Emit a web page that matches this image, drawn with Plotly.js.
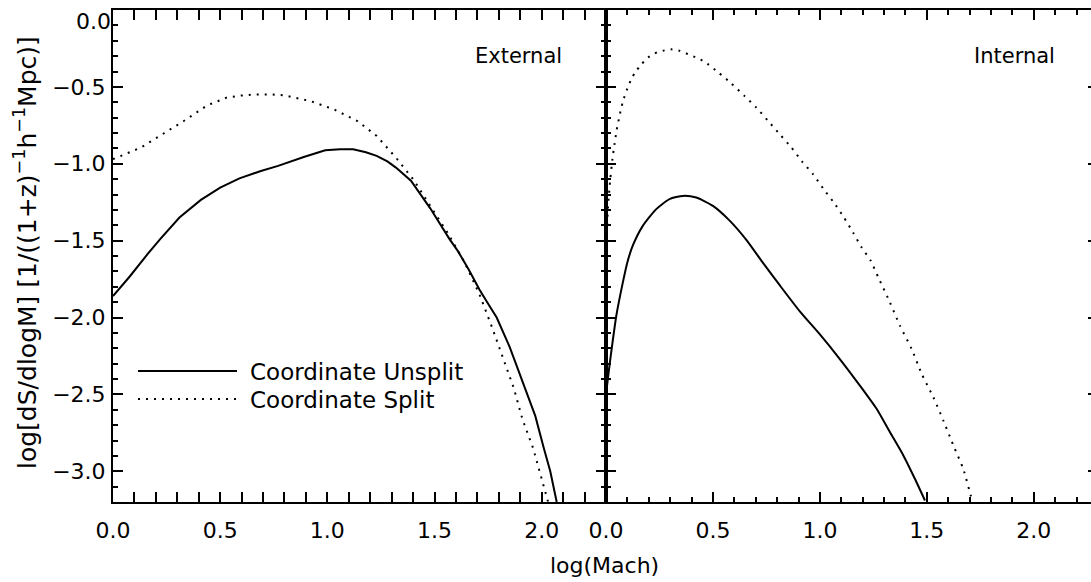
<!DOCTYPE html>
<html>
<head>
<meta charset="utf-8">
<script src="https://cdn.plot.ly/plotly-3.0.1.min.js"></script>
<style>
html, body { margin: 0; padding: 0; overflow: hidden; background: #fff; }
#chart { width: 1100px; height: 582px; }
</style>
</head>
<body>
<div id="chart"></div>
<script>
// ---- Data ----
// External panel
const extUnsplitX = [0, 0.08, 0.16, 0.22, 0.31, 0.41, 0.50, 0.59, 0.69, 0.77, 0.89, 0.99, 1.06, 1.12, 1.18, 1.23, 1.28, 1.32, 1.39, 1.48, 1.57, 1.61, 1.66, 1.71, 1.75, 1.79, 1.85, 1.91, 1.97, 2.01, 2.04, 2.07];
const extUnsplitY = [-1.86, -1.73, -1.59, -1.49, -1.35, -1.235, -1.155, -1.095, -1.047, -1.014, -0.956, -0.912, -0.905, -0.906, -0.925, -0.949, -0.985, -1.025, -1.11, -1.29, -1.49, -1.57, -1.69, -1.82, -1.91, -2.0, -2.19, -2.42, -2.64, -2.85, -3.0, -3.2];
const extSplitX = [0, 0.13, 0.24, 0.33, 0.44, 0.53, 0.60, 0.67, 0.73, 0.80, 0.92, 1.03, 1.14, 1.23, 1.32, 1.40, 1.48, 1.56, 1.64, 1.71, 1.77, 1.82, 1.87, 1.91, 1.96, 2.00, 2.03];
const extSplitY = [-0.97, -0.895, -0.80, -0.722, -0.62, -0.570, -0.556, -0.549, -0.549, -0.555, -0.592, -0.646, -0.722, -0.819, -0.96, -1.10, -1.274, -1.447, -1.64, -1.85, -2.07, -2.27, -2.46, -2.66, -2.85, -3.05, -3.2];
// Internal panel
const intUnsplitX = [0, 0.012, 0.024, 0.048, 0.079, 0.10, 0.126, 0.172, 0.235, 0.297, 0.36, 0.422, 0.50, 0.578, 0.656, 0.734, 0.812, 0.906, 1.0, 1.093, 1.187, 1.265, 1.327, 1.39, 1.444, 1.491];
const intUnsplitY = [-2.50, -2.36, -2.23, -1.99, -1.77, -1.64, -1.53, -1.404, -1.295, -1.23, -1.209, -1.22, -1.274, -1.37, -1.495, -1.645, -1.79, -1.96, -2.11, -2.27, -2.443, -2.594, -2.745, -2.897, -3.049, -3.19];
const intSplitX = [0, 0.005, 0.01, 0.02, 0.03, 0.04, 0.05, 0.06, 0.07, 0.08, 0.10, 0.12, 0.14, 0.165, 0.196, 0.227, 0.266, 0.305, 0.344, 0.383, 0.422, 0.461, 0.523, 0.586, 0.648, 0.703, 0.758, 0.812, 0.867, 0.917, 0.968, 1.015, 1.065, 1.112, 1.155, 1.195, 1.237, 1.273, 1.327, 1.374, 1.429, 1.476, 1.53, 1.577, 1.624, 1.67, 1.705, 1.715];
const intSplitY = [-1.5, -1.40, -1.27, -1.10, -0.97, -0.87, -0.78, -0.71, -0.645, -0.59, -0.51, -0.445, -0.398, -0.354, -0.31, -0.282, -0.265, -0.256, -0.265, -0.287, -0.31, -0.336, -0.404, -0.477, -0.56, -0.635, -0.722, -0.808, -0.895, -0.986, -1.068, -1.161, -1.252, -1.349, -1.447, -1.544, -1.63, -1.739, -1.901, -2.053, -2.205, -2.367, -2.518, -2.67, -2.832, -2.984, -3.157, -3.2];

// Tick labels
const yTickVals = [-3.0, -2.5, -2.0, -1.5, -1.0, -0.5];
const yTickText = ['\u22123.0', '\u22122.5', '\u22122.0', '\u22121.5', '\u22121.0', '\u22120.5'];
const yTopTickVals = [0];
const yTopTickText = ['0.0'];

const seriesNames = ['Coordinate Unsplit', 'Coordinate Split'];
const panelLabels = ['External', 'Internal'];
const xTitle = 'log(Mach)';
const yTitle = 'log[dS/dlogM] [1/((1+z)<sup>\u22121</sup>h<sup>\u22121</sup>Mpc)]';

// ---- Styles ----
const FONT = 'DejaVu Sans';
const solid = {color: 'black', width: 2};
const dotted = {color: 'black', width: 2, dash: '2px,6px'};
const solidSmooth = {color: 'black', width: 2, shape: 'spline', smoothing: 0.6};
const dottedSmooth = {color: 'black', width: 2, dash: '2px,6px', shape: 'spline', smoothing: 0.6};

const traces = [
  {x: extUnsplitX, y: extUnsplitY, xaxis: 'x', yaxis: 'y', mode: 'lines', line: solid, name: seriesNames[0], showlegend: false},
  {x: extSplitX, y: extSplitY, xaxis: 'x', yaxis: 'y', mode: 'lines', line: dotted, name: seriesNames[1], showlegend: false},
  {x: intUnsplitX, y: intUnsplitY, xaxis: 'x2', yaxis: 'y2', mode: 'lines', line: solidSmooth, name: seriesNames[0], showlegend: false},
  {x: intSplitX, y: intSplitY, xaxis: 'x2', yaxis: 'y2', mode: 'lines', line: dottedSmooth, name: seriesNames[1], showlegend: false},
  // empty helper trace so the overlay axis carrying the top "0.0" label is drawn
  {x: [], y: [], xaxis: 'x', yaxis: 'y3', mode: 'lines', showlegend: false, hoverinfo: 'skip'}
];

const W = 1100, H = 582, ML = 113, MR = 2, MT = 10, MB = 80;
const PW = W - ML - MR, PH = H - MT - MB;
const px = v => (v - ML) / PW;
const py = v => (H - MB - v) / PH;
const split = px(606);

const minorTicks = {ticks: 'inside', ticklen: 5, tickwidth: 2, tickcolor: 'black', tickmode: 'linear', dtick: 0.1, tick0: 0, showgrid: false};

function xAxis(domain, anchor) {
  return {
    domain: domain, anchor: anchor, range: [0, 2.3], autorange: false,
    showline: true, linecolor: 'black', linewidth: 2, mirror: 'allticks',
    ticks: 'inside', ticklen: 10, tickwidth: 2, tickcolor: 'black',
    tick0: 0, dtick: 0.5, tickformat: '.1f', showgrid: false, zeroline: false,
    ticklabelstandoff: 8, ticklabeloverflow: 'allow',
    tickfont: {family: FONT, size: 22, color: 'black'},
    minor: minorTicks
  };
}
function yAxis(anchor, labels) {
  return {
    anchor: anchor, range: [-3.2, 0], autorange: false,
    showline: true, linecolor: 'black', linewidth: 2, mirror: 'allticks',
    ticks: 'inside', ticklen: 10, tickwidth: 2, tickcolor: 'black',
    tickmode: 'array', tickvals: yTickVals, ticktext: yTickText,
    showgrid: false, zeroline: false,
    showticklabels: labels, ticklabeloverflow: 'allow', ticklabelstandoff: 1,
    tickfont: {family: FONT, size: 22, color: 'black'},
    minor: minorTicks
  };
}

const layout = {
  width: W, height: H,
  margin: {l: ML, r: MR, t: MT, b: MB, pad: 0},
  paper_bgcolor: 'white', plot_bgcolor: 'white',
  font: {family: FONT, color: 'black'},
  showlegend: false,
  xaxis: xAxis([0, split], 'y'),
  xaxis2: xAxis([split, 1], 'y2'),
  yaxis: yAxis('x', true),
  yaxis2: Object.assign(yAxis('x2', false), {matches: 'y'}),
  yaxis3: {
    overlaying: 'y', anchor: 'x', side: 'left', range: [-3.2, 0], autorange: false,
    showline: false, ticks: '', showgrid: false, zeroline: false,
    tickmode: 'array', tickvals: yTopTickVals, ticktext: yTopTickText,
    ticklabelshift: 11, ticklabelstandoff: 1, ticklabeloverflow: 'allow',
    tickfont: {family: FONT, size: 22, color: 'black'}
  },
  shapes: [
    {type: 'line', xref: 'paper', yref: 'paper', x0: px(138), x1: px(237), y0: py(371), y1: py(371), line: solid},
    {type: 'line', xref: 'paper', yref: 'paper', x0: px(138), x1: px(237), y0: py(399), y1: py(399), line: dotted}
  ],
  annotations: [
    {xref: 'paper', yref: 'paper', x: px(248), y: py(372), xanchor: 'left', yanchor: 'middle', text: seriesNames[0], showarrow: false, font: {family: FONT, size: 23, color: 'black'}},
    {xref: 'paper', yref: 'paper', x: px(248), y: py(400), xanchor: 'left', yanchor: 'middle', text: seriesNames[1], showarrow: false, font: {family: FONT, size: 23, color: 'black'}},
    {xref: 'paper', yref: 'paper', x: px(564), y: py(56), xanchor: 'right', yanchor: 'middle', text: panelLabels[0], showarrow: false, font: {family: FONT, size: 21, color: 'black'}},
    {xref: 'paper', yref: 'paper', x: px(1057), y: py(56), xanchor: 'right', yanchor: 'middle', text: panelLabels[1], showarrow: false, font: {family: FONT, size: 21, color: 'black'}},
    {xref: 'paper', yref: 'paper', x: px(604), y: py(565), xanchor: 'center', yanchor: 'middle', text: xTitle, showarrow: false, font: {family: FONT, size: 22, color: 'black'}},
    {xref: 'paper', yref: 'paper', x: px(25), y: py(253), xanchor: 'center', yanchor: 'middle', textangle: -90, text: yTitle, showarrow: false, font: {family: FONT, size: 25, color: 'black'}}
  ]
};

Plotly.newPlot('chart', traces, layout, {displayModeBar: false, staticPlot: true});
</script>
</body>
</html>
